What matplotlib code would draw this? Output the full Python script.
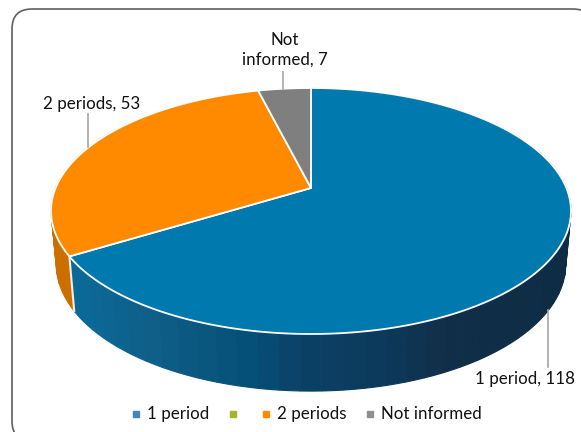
import numpy as np
import matplotlib
matplotlib.use("Agg")
import matplotlib.pyplot as plt
from matplotlib.patches import FancyBboxPatch, Polygon

labels = ["1 period", "2 periods", "Not informed"]
values = [118, 53, 7]
colors = ["#0079ae", "#ff8a00", "#7f7f7f"]
side_colors = ["#0079ae", "#cc6e00", "#666666"]
legend_labels = ["1 period", "", "2 periods", "Not informed"]
legend_colors = ["#3f88b4", "#a5b52a", "#ff8a00", "#8f8f8f"]
legend_x = [136, 233, 266, 370]

# shades of the blue wall, left to right
wall_x = [70, 150, 250, 300, 380, 450, 570]
wall_colors = ["#0b6a99", "#0f5f88", "#054f78", "#0b4167", "#0c3a5c", "#112e48", "#0f2c45"]

cx, cy = 311, 188
A, B, k = 255.4, 118.7, 0.187
shrink, depth, tilt = 0.98, 60, 8.3


def project(t, s=1.0, lower=False):
    # t in degrees, clockwise from the top of the disc
    u = np.sin(np.radians(t))
    v = np.cos(np.radians(t))
    w = 1 + k * v
    dy = depth - tilt * (1 + v) if lower else 0
    return cx + s * A * u / w, cy - s * B * v / w + dy


def wall_color(x):
    rgb = np.array([matplotlib.colors.to_rgb(c) for c in wall_colors])
    return [np.interp(x, wall_x, rgb[:, i]) for i in range(3)]


def wall(t1, t2, col):
    ts = np.linspace(t1, t2, 8)
    xa, ya = project(ts)
    xb, yb = project(ts[::-1], shrink, True)
    pts = list(zip(xa, ya)) + list(zip(xb, yb))
    ax.add_patch(Polygon(pts, closed=True, fc=col, ec=col, lw=0.8))


fig = plt.figure(figsize=(5.81, 4.32), dpi=100)
ax = fig.add_axes([0, 0, 1, 1])
ax.set_xlim(0, 581)
ax.set_ylim(432, 0)
ax.axis("off")

ax.add_patch(FancyBboxPatch((12, 9), 581, 432, boxstyle="round,pad=0,rounding_size=20",
                            fc="white", ec="#606060", lw=1.2))

angles = np.cumsum([0] + values) / sum(values) * 360

# walls in strips, a single polygon would cancel itself where it folds at the rim
step = 4.0
for t in np.arange(angles[1], 300, step):
    wall(t, t + step, side_colors[1])
for t in np.arange(70, angles[1], step):
    t2 = min(t + step, angles[1])
    wall(t, t2, wall_color(project((t + t2) / 2)[0]))

# white seam between the blue and orange walls
xa, ya = project(angles[1])
xb, yb = project(angles[1], shrink, True)
ax.plot([xa, xb], [ya, yb], color="#f4efe6", lw=1.5)

# top face
for i in range(len(values)):
    ts = np.linspace(angles[i], angles[i + 1], 200)
    xs, ys = project(ts)
    pts = [(cx, cy)] + list(zip(xs, ys))
    ax.add_patch(Polygon(pts, closed=True, fc=colors[i], ec="white", lw=1.3, joinstyle="round"))

# leader lines
ax.plot([548, 548], [310, 367], color="#a6a6a6", lw=1.2)
ax.plot([88, 88], [114, 147], color="#a6a6a6", lw=1.2)
ax.plot([283, 283], [72, 89], color="#a6a6a6", lw=1.2)

font = dict(family="Lato", fontsize=12.2, color="#111111")
ax.text(525, 379, f"{labels[0]}, {values[0]}", ha="center", va="center", **font)
ax.text(92, 104, f"{labels[1]}, {values[1]}", ha="center", va="center", **font)
ax.text(285, 50, f"Not\ninformed, {values[2]}", ha="center", va="center", linespacing=1.3, **font)

for x, lab, col in zip(legend_x, legend_labels, legend_colors):
    ax.plot([x], [414], marker="s", ms=4.6, color=col, ls="none")
    ax.text(x + 11, 414, lab, ha="left", va="center", **font)

fig.savefig("out.png", dpi=100)
